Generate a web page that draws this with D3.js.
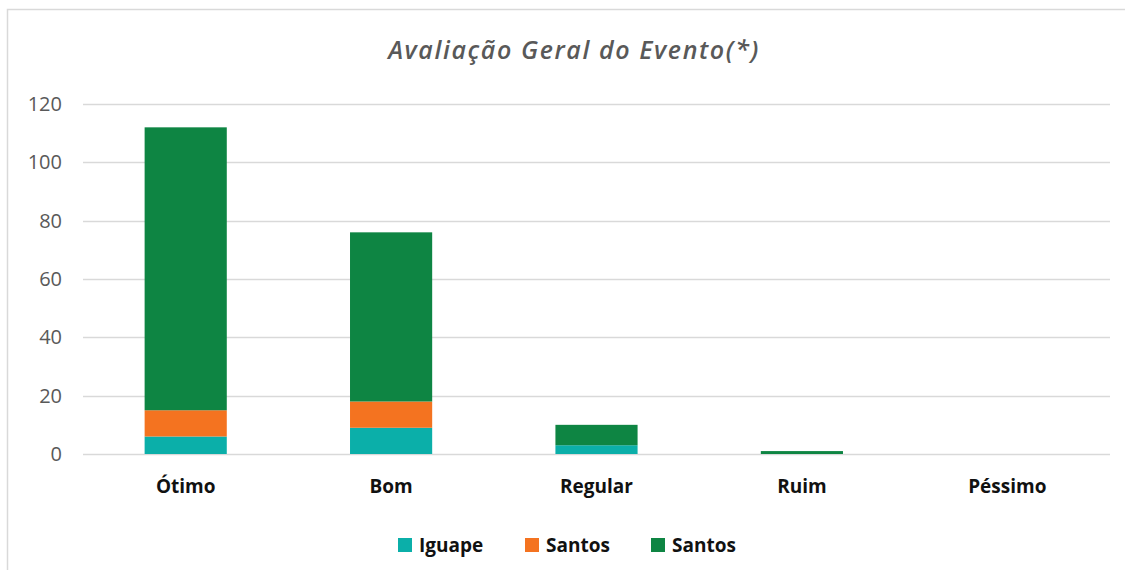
<!DOCTYPE html>
<html>
<head>
<meta charset="utf-8">
<script src="https://cdnjs.cloudflare.com/ajax/libs/d3/7.8.5/d3.min.js"></script>
<style>
  body { margin: 0; background: #fff; }
  svg { display: block; font-family: "Open Sans", "Liberation Sans", sans-serif; }
</style>
</head>
<body>
<svg width="1125" height="570"></svg>
<script>
var categories = ["Ótimo", "Bom", "Regular", "Ruim", "Péssimo"];
var seriesNames = ["Iguape", "Santos", "Santos"];
var seriesColors = ["#0bafa9", "#f47320", "#0e8543"];
var iguape = [6, 9, 3, 0, 0];
var santosA = [9, 9, 0, 0, 0];
var santosB = [97, 58, 7, 1, 0];
var yTicks = [0, 20, 40, 60, 80, 100, 120];

var svg = d3.select("svg"),
	margin = { top: 104, right: 15, bottom: 116, left: 83 },
	width = +svg.attr("width") - margin.left - margin.right,
	height = +svg.attr("height") - margin.top - margin.bottom;

// chart frame
svg.append("rect")
	.attr("x", 7.5).attr("y", 9.5)
	.attr("width", 1140).attr("height", 600)
	.attr("fill", "none")
	.attr("stroke", "#d9d9d9")
	.attr("stroke-width", 1.5);

var x = d3.scaleBand().domain(categories).range([0, width]).paddingInner(0.6).paddingOuter(0.3);
var y = d3.scaleLinear().domain([0, 120]).range([height, 0]);

var g = svg.append("g")
	.attr("transform", "translate(" + margin.left + "," + margin.top + ")");

// gridlines
g.selectAll(".grid")
	.data(yTicks)
	.enter().append("line")
	.attr("x1", 0).attr("x2", width)
	.attr("y1", function(d) { return Math.round(y(d)) + 0.5; })
	.attr("y2", function(d) { return Math.round(y(d)) + 0.5; })
	.attr("stroke", "#d9d9d9")
	.attr("stroke-width", 1.3);

// y axis labels
var yAxis = g.append("g")
	.call(d3.axisLeft(y).tickValues(yTicks).tickSize(0).tickPadding(21));
yAxis.select(".domain").remove();
yAxis.selectAll("text")
	.attr("fill", "#595959")
	.style("font-size", "20px")
	.style("font-family", "'Open Sans', sans-serif");

// stacked data
var rows = categories.map(function(c, i) {
	return { cat: c, s0: iguape[i], s1: santosA[i], s2: santosB[i] };
});
var stack = d3.stack().keys(["s0", "s1", "s2"]);
var layers = stack(rows);

g.selectAll(".layer")
	.data(layers)
	.enter().append("g")
	.attr("fill", function(d, i) { return seriesColors[i]; })
	.selectAll("rect")
	.data(function(d) { return d; })
	.enter().append("rect")
	.attr("x", function(d) { return x(d.data.cat); })
	.attr("width", x.bandwidth())
	.attr("y", function(d) { return y(d[1]); })
	.attr("height", function(d) { return y(d[0]) - y(d[1]); });

// category labels
var xAxis = g.append("g")
	.attr("transform", "translate(0," + height + ")")
	.call(d3.axisBottom(x).tickSize(0).tickPadding(26));
xAxis.select(".domain").remove();
xAxis.selectAll("text")
	.attr("fill", "#111")
	.style("font-size", "19px")
	.style("font-weight", "bold")
	.style("font-family", "'Open Sans', sans-serif");

// title
svg.append("text")
	.attr("x", 574)
	.attr("y", 59)
	.attr("text-anchor", "middle")
	.attr("fill", "#595959")
	.style("font-size", "25px")
	.style("font-style", "italic")
	.style("font-weight", "600")
	.style("letter-spacing", "1.6px")
	.text("Avaliação Geral do Evento(*)");

// legend
var legendX = [398, 525, 651];
var legend = svg.selectAll(".legend")
	.data(seriesNames)
	.enter().append("g")
	.attr("transform", function(d, i) { return "translate(" + legendX[i] + ",538)"; });
legend.append("rect")
	.attr("width", 14).attr("height", 14)
	.attr("fill", function(d, i) { return seriesColors[i]; });
legend.append("text")
	.attr("x", 21)
	.attr("y", 14)
	.attr("fill", "#111")
	.style("font-size", "19px")
	.style("font-weight", "bold")
	.text(function(d) { return d; });
</script>
</body>
</html>
